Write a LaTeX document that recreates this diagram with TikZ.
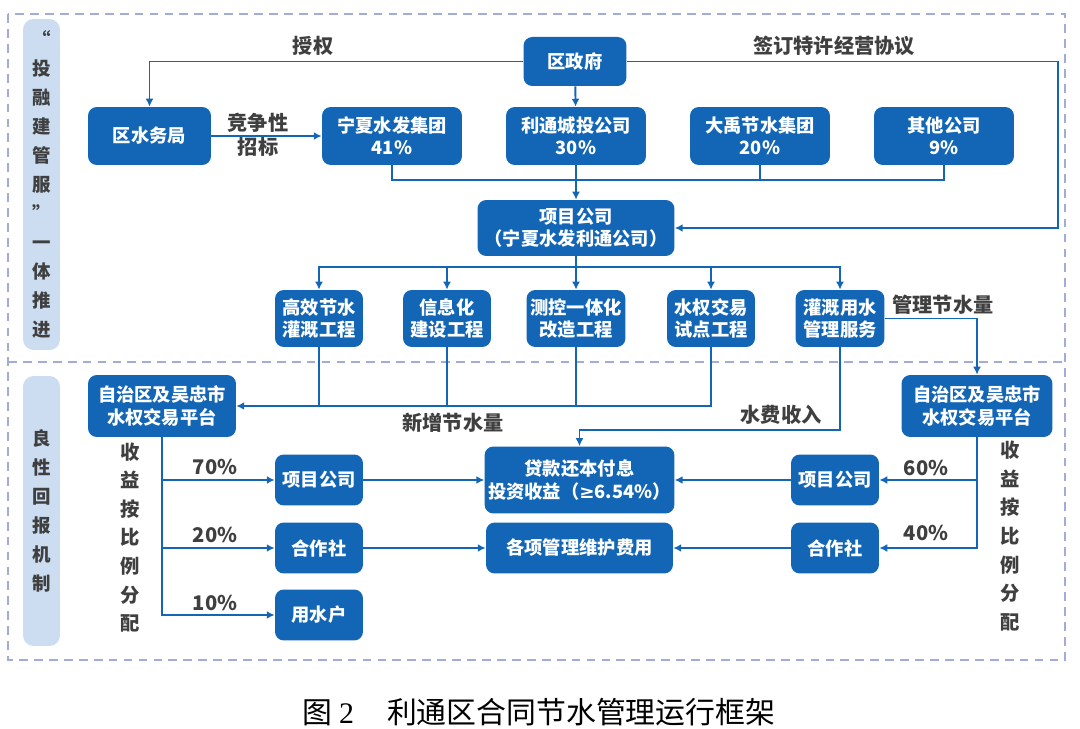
\documentclass[tikz,border=0pt]{standalone}
\usepackage{fontspec}
\setmainfont{Noto Sans CJK SC}
\newfontfamily\capnum{Liberation Serif}
\newfontfamily\symfont{DejaVu Sans}
\usetikzlibrary{arrows.meta, positioning}

\definecolor{boxblue}{HTML}{1366B6}
\definecolor{barblue}{HTML}{CCDDF1}
\definecolor{dashgray}{HTML}{A2ACD8}
\definecolor{txtgray}{HTML}{3F3F3F}

\begin{document}
\begin{tikzpicture}[x=0.02cm, y=-0.02cm, >={Latex[length=4.5pt,width=4.5pt]},
    box/.style={fill=boxblue, text=white, rounded corners=5pt, align=center,
                inner sep=2pt, font=\fontsize{10.4}{12.6}\selectfont\bfseries},
    lbl/.style={text=txtgray, align=center, font=\fontsize{11.5}{12}\selectfont\bfseries},
    vtxt/.style={text=txtgray, align=center, font=\fontsize{10.5}{16.5}\selectfont\bfseries},
    sidebar/.style={vtxt, fill=barblue, rounded corners=6pt, minimum width=0.74cm},
    link/.style={draw=boxblue, line width=1.1pt}]

\useasboundingbox (0,0) rectangle (1080,729);

% Frames
\draw[dashgray, line width=1.1pt, dash pattern=on 5pt off 3.5pt] (8,14) rectangle (1065,660);
\draw[dashgray, line width=1.1pt, dash pattern=on 5pt off 3.5pt] (8,362) -- (1065,362);

\node[sidebar, minimum height=6.62cm] (TRJ) at (41.5,184.5) {“\\投\\融\\建\\管\\服\\”\\一\\体\\推\\进};
\node[sidebar, minimum height=5.4cm] (LXHB) at (41.5,511) {良\\性\\回\\报\\机\\制};

% Nodes
\node[box, minimum width=2.06cm, minimum height=0.98cm] (QZF) at (575,61.5) {区政府};
\node[box, minimum width=2.46cm, minimum height=1.16cm] (SWJ) at (149.5,136) {区水务局};
\node[box, minimum width=2.8cm, minimum height=1.16cm] (NXSF) at (392,136) {宁夏水发集团\\41\%};
\node[box, minimum width=2.8cm, minimum height=1.16cm] (LTCT) at (576,136) {利通城投公司\\30\%};
\node[box, minimum width=2.8cm, minimum height=1.16cm] (DYJS) at (760,136) {大禹节水集团\\20\%};
\node[box, minimum width=2.8cm, minimum height=1.16cm] (QTGS) at (944,136) {其他公司\\9\%};

\node[box, minimum width=3.94cm, minimum height=1.12cm] (XMGS) at (576,228) {项目公司\\（宁夏水发利通公司）};

\node[box, minimum width=1.76cm, minimum height=1.14cm] (GXJS) at (319,318.5) {高效节水\\灌溉工程};
\node[box, minimum width=1.76cm, minimum height=1.14cm] (XXH) at (447,318.5) {信息化\\建设工程};
\node[box, minimum width=1.98cm, minimum height=1.14cm] (CKYT) at (576,318.5) {测控一体化\\改造工程};
\node[box, minimum width=1.76cm, minimum height=1.14cm] (SQJY) at (711,318.5) {水权交易\\试点工程};
\node[box, minimum width=1.78cm, minimum height=1.14cm] (GGYS) at (840,318.5) {灌溉用水\\管理服务};

\node[box, minimum width=2.96cm, minimum height=1.24cm] (PTL) at (162,406) {自治区及吴忠市\\水权交易平台};
\node[box, minimum width=3.02cm, minimum height=1.24cm] (PTR) at (977,406) {自治区及吴忠市\\水权交易平台};

\node[box, minimum width=1.76cm, minimum height=1.02cm] (XMGSL) at (319,480) {项目公司};
\node[box, minimum width=1.76cm, minimum height=1.02cm] (HZSL) at (319,548) {合作社};
\node[box, minimum width=1.76cm, minimum height=1.02cm] (YSH) at (319,615) {用水户};

\node[box, minimum width=3.74cm, minimum height=1.34cm] (DKHB) at (579.5,480) {贷款还本付息\\投资收益（{\symfont\bfseries ≥}6.54\%）};
\node[box, minimum width=3.74cm, minimum height=1.02cm] (GXFY) at (579.5,548) {各项管理维护费用};

\node[box, minimum width=1.76cm, minimum height=1.02cm] (XMGSR) at (835,480) {项目公司};
\node[box, minimum width=1.76cm, minimum height=1.02cm] (HZSR) at (835,548) {合作社};

% Labels
\node[lbl] (SQ) at (313,46) {授权};
\node[lbl] (TXXY) at (834,46) {签订特许经营协议};
\node[lbl, font=\fontsize{11.5}{13.6}\selectfont\bfseries] (JZZB) at (258,135) {竞争性\\招标};
\node[lbl] (GLJS) at (943,305) {管理节水量};
\node[lbl] (XZJS) at (453,423) {新增节水量};
\node[lbl] (SFSR) at (781,415) {水费收入};
\node[lbl] (P70) at (215,467) {70\%};
\node[lbl] (P20) at (215,535) {20\%};
\node[lbl] (P10) at (215,603) {10\%};
\node[lbl] (P60) at (926,468) {60\%};
\node[lbl] (P40) at (926,533) {40\%};
\node[vtxt, font=\fontsize{11}{16.3}\selectfont\bfseries] (FPL) at (130,537.5) {收\\益\\按\\比\\例\\分\\配};
\node[vtxt, font=\fontsize{11}{16.3}\selectfont\bfseries] (FPR) at (1010,536) {收\\益\\按\\比\\例\\分\\配};

\node[font=\fontsize{17}{20}\selectfont] (CAP) at (539,712) {图 {\capnum 2}\hspace{1.1em}利通区合同节水管理运行框架};

% Connections
\coordinate (QZFR) at (1058,61.5);
\coordinate (GQ) at (576,180);
\coordinate (FZ) at (576,267);
\coordinate (SF) at (840,430);

\draw[link, ->] (QZF.west) -| (SWJ.north);
\draw[link, ->] (QZF.east) -- (QZFR) |- (XMGS.east);
\draw[link, ->] (QZF) -- (LTCT);
\draw[link, ->] (SWJ) -- (NXSF);

\draw[link] (NXSF.south) |- (GQ);
\draw[link] (DYJS.south) |- (GQ);
\draw[link] (QTGS.south) |- (GQ);
\draw[link, ->] (LTCT) -- (XMGS);

\draw[link] (XMGS.south) -- (FZ);
\draw[link, ->] (FZ) -| (GXJS.north);
\draw[link, ->] (FZ) -| (XXH.north);
\draw[link, ->] (FZ) -- (CKYT.north);
\draw[link, ->] (FZ) -| (SQJY.north);
\draw[link, ->] (FZ) -| (GGYS.north);

% Water saving
\draw[link] (GXJS.south) -- (GXJS.south |- PTL.east);
\draw[link] (XXH.south) -- (XXH.south |- PTL.east);
\draw[link] (CKYT.south) -- (CKYT.south |- PTL.east);
\draw[link, ->] (SQJY.south) |- (PTL.east);
\draw[link, ->] (GGYS.south) -- (SF) -| (DKHB.north);
\draw[link, ->] (GGYS.east) -| (PTR.north);

% Revenue split
\draw[link, ->] (PTL.south) |- (YSH.west);
\draw[link, ->] (PTL.south |- XMGSL.west) -- (XMGSL.west);
\draw[link, ->] (PTL.south |- HZSL.west) -- (HZSL.west);
\draw[link, ->] (PTR.south) |- (HZSR.east);
\draw[link, ->] (PTR.south |- XMGSR.east) -- (XMGSR.east);

\draw[link, ->] (XMGSL) -- (DKHB);
\draw[link, ->] (HZSL) -- (GXFY);
\draw[link, ->] (XMGSR) -- (DKHB);
\draw[link, ->] (HZSR) -- (GXFY);

\end{tikzpicture}
\end{document}
